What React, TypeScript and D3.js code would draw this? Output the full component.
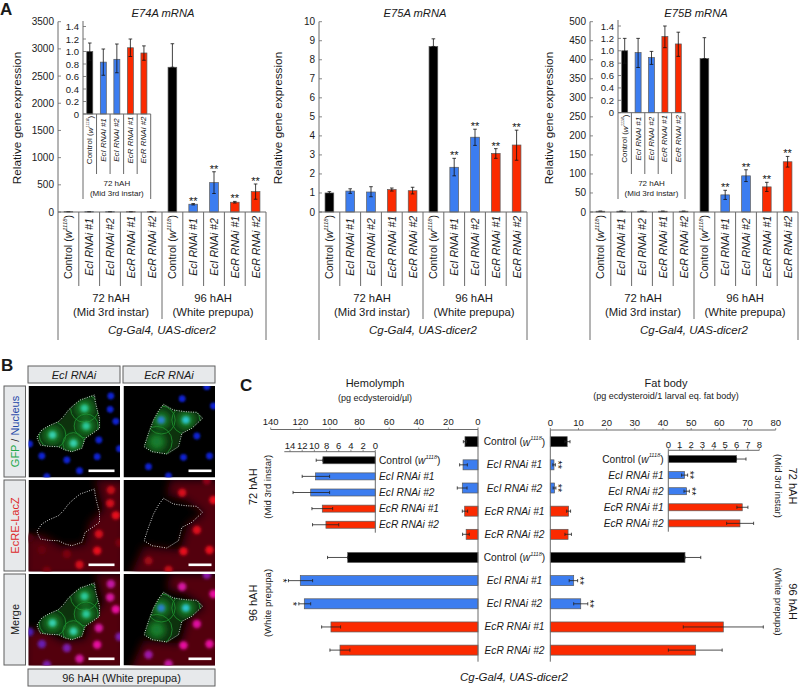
import React from "react";
import * as d3 from "d3";

const FONT = "'Liberation Sans', Arial, sans-serif";
const BLACK = "#000000";
const BLUE = "#3c7df0";
const RED = "#fb2a00";
const EDGE = "#5a5a5a";
const AXIS = "#6a6a6a";

const barColors = [BLACK, BLUE, BLUE, RED, RED];
const categories = ["Control", "EcI RNAi #1", "EcI RNAi #2", "EcR RNAi #1", "EcR RNAi #2"];

// Panel A
const e74aValues = [6, 6, 6, 6, 6, 2662, 143, 540, 180, 375];
const e74aHigh = [6, 6, 6, 6, 6, 3095, 155, 740, 195, 515];
const e74aLow = [6, 6, 6, 6, 6, 2662, 130, 340, 165, 235];
const e74aStars = [0, 0, 0, 0, 0, 0, 1, 1, 1, 1];
const e74aTicks = [0, 500, 1000, 1500, 2000, 2500, 3000, 3500];

const e75aValues = [1.0, 1.1, 1.05, 1.18, 1.12, 8.7, 2.35, 3.93, 3.08, 3.52];
const e75aHigh = [1.07, 1.22, 1.33, 1.26, 1.3, 9.1, 2.82, 4.35, 3.33, 4.3];
const e75aLow = [0.96, 0.98, 0.8, 1.1, 0.95, 8.7, 1.9, 3.5, 2.82, 2.72];
const e75aStars = [0, 0, 0, 0, 0, 0, 1, 1, 1, 1];
const e75aTicks = [0, 1, 2, 3, 4, 5, 6, 7, 8, 9, 10];

const e75bValues = [2, 2, 2, 2, 2, 403, 45, 95, 66, 132];
const e75bHigh = [2, 2, 2, 2, 2, 458, 57, 111, 78, 146];
const e75bLow = [2, 2, 2, 2, 2, 403, 33, 80, 54, 118];
const e75bStars = [0, 0, 0, 0, 0, 0, 1, 1, 1, 1];
const e75bTicks = [0, 50, 100, 150, 200, 250, 300, 350, 400, 450, 500];

const insetTicks = [0, 0.2, 0.4, 0.6, 0.8, 1.0, 1.2, 1.4];
const e74aInsetValues = [1.0, 0.83, 0.875, 1.06, 0.976];
const e74aInsetHigh = [1.136, 1.04, 1.12, 1.2, 1.09];
const e74aInsetLow = [0.86, 0.62, 0.66, 0.92, 0.86];
const e75bInsetValues = [1.0, 0.97, 0.89, 1.23, 1.11];
const e75bInsetHigh = [1.2, 1.2, 0.99, 1.4, 1.3];
const e75bInsetLow = [0.8, 0.73, 0.78, 1.05, 0.91];

// Panel C
const hemoValues = [8.8, 10.1, 10.6, 9, 8, 88, 120, 117.3, 99.3, 93.2];
const hemoHigh = [9.9, 12.4, 14, 10.6, 10.4, 101.6, 128, 121, 105.6, 100];
const hemoLow = [7.8, 7.2, 7.4, 7, 5.9, 88, 111.7, 113, 92.8, 86.5];
const hemoStars = ["", "", "", "", "", "", "*", "*", "", ""];
const hemoTicks = [0, 20, 40, 60, 80, 100, 120, 140];

const fatValues = [6, 1.3, 1.5, 6.5, 6.3, 47.8, 8.3, 10.8, 61.4, 51.6];
const fatHigh = [7, 1.8, 2, 7.2, 7.5, 53.4, 9.7, 13.3, 75.6, 61];
const fatLow = [5.2, 0.9, 1, 5.8, 5.2, 47.8, 6.7, 8.3, 47.2, 41.9];
const fatStars = ["", "**", "**", "", "", "", "**", "**", "", ""];
const fatTicks = [0, 10, 20, 30, 40, 50, 60, 70, 80];

const hemoInsetValues = [8.6, 9.8, 10.6, 8.7, 8.1];
const hemoInsetHigh = [9.7, 12, 13.5, 10.4, 10.3];
const hemoInsetLow = [8.6, 7.5, 7.5, 7, 6];
const hemoInsetTicks = [0, 2, 4, 6, 8, 10, 12, 14];

const fatInsetValues = [6.0, 1.43, 1.6, 6.5, 6.3];
const fatInsetHigh = [6.83, 1.7, 1.85, 7, 7.5];
const fatInsetLow = [6.0, 1.17, 1.38, 6.03, 5.13];
const fatInsetStars = ["", "**", "**", "", ""];
const fatInsetTicks = [0, 1, 2, 3, 4, 5, 6, 7, 8];

// Panel B photographs, sketched: [x, y, red level] in 1/3 px
const nucleiLeft = [[247,30,.8],[245,70,.9],[262,106,1],[211,162,.9],[40,210,.3],[115,222,.4],[206,212,1],[153,254,.9],[55,272,.4],[3,174,.15],[273,188,.4]];
const nucleiRight = [[176,38,.9],[270,60,1],[220,150,.95],[180,214,1],[258,210,1],[75,242,.6],[135,270,.8],[250,2,.5]];
const outlineLeft = [[198,27],[175,35],[155,42],[135,58],[120,72],[105,92],[90,107],[60,120],[40,132],[25,154],[35,177],[60,181],[90,182],[110,192],[130,197],[160,187],[170,157],[195,140],[213,127],[213,97],[205,67],[200,45]];
const outlineRight = [[120,55],[150,72],[185,77],[220,79],[237,97],[205,127],[175,142],[165,182],[130,204],[85,197],[62,182],[75,142],[90,102],[105,75]];
const redFieldLeft = [[200,0],[290,0],[290,290],[-10,290],[-10,170],[40,165],[100,200],[170,195],[185,125],[225,90],[210,30]];
const redFieldRight = [[140,0],[290,0],[290,290],[20,290],[60,200],[170,210],[195,130],[245,100],[190,62],[130,45]];
const cellsLeft = [[168,67,42],[173,120,36],[72,147,40],[135,172,32]];
const cellsRight = [[113,102,42],[187,102,42],[100,167,46]];
const coreLeft = [[168,67,"#2bc89a"],[173,120,"#2bc89a"],[72,147,"#35cfae"],[135,172,"#35cfae"]];
const coreRight = [[113,102,"#2a80cc"],[187,102,"#2cc4d0"],[100,167,"#157a30"]];

const pt = (a: number[][]) => a.map((p) => `${p[0] / 3},${p[1] / 3}`).join(" ");

function ControlLabel({ x, y, size, rotate, anchor }: any) {
  return (
    <text
      transform={`translate(${x},${y}) rotate(${rotate})`}
      textAnchor={anchor}
      fontSize={size}
      dominantBaseline="central"
    >
      Control (<tspan fontStyle="italic">w</tspan>
      <tspan fontStyle="italic" fontSize={size * 0.55} dy={-size * 0.35}>1118</tspan>
      <tspan dy={size * 0.35}>)</tspan>
    </text>
  );
}

function CatLabel({ i, x, y, size, rotate = 0, anchor = "middle" }: any) {
  if (i === 0) return <ControlLabel x={x} y={y} size={size} rotate={rotate} anchor={anchor} />;
  return (
    <text
      transform={`translate(${x},${y}) rotate(${rotate})`}
      textAnchor={anchor}
      fontSize={size}
      fontStyle="italic"
      dominantBaseline="central"
    >
      {categories[i]}
    </text>
  );
}

function VBars({ x0, x1, yTop, yBase, axisTop, max, ticks, fmt, values, high, low, stars, barW, tickSize, axisLine }: any) {
  const y = d3.scaleLinear().domain([0, max]).range([yBase, yTop]);
  const idx = d3.range(values.length);
  const x = d3.scaleBand<number>().domain(idx).range([x0, x1]);
  return (
    <g>
      {idx.map((i: number) => {
        const cx = x(i)! + x.bandwidth() / 2;
        const color = barColors[i % 5];
        return (
          <g key={i}>
            <rect x={cx - barW / 2} y={y(values[i])} width={barW} height={yBase - y(values[i])} fill={color} stroke={EDGE} strokeWidth={0.7} />
            <path
              d={`M${cx},${y(high[i])}V${y(low[i])}M${cx - 1.8},${y(high[i])}H${cx + 1.8}M${cx - 1.8},${y(low[i])}H${cx + 1.8}`}
              stroke="#111"
              strokeWidth={0.8}
              fill="none"
            />
            {stars && stars[i] ? (
              <text x={cx} y={y(high[i]) + 1} textAnchor="middle" fontSize={11} fill="#111">**</text>
            ) : null}
          </g>
        );
      })}
      <path d={`M${x0},${axisTop}V${yBase}`} stroke={AXIS} strokeWidth={1} fill="none" />
      {axisLine ? <path d={`M${x0},${yBase}H${x1}`} stroke={AXIS} strokeWidth={1} fill="none" /> : null}
      {ticks.map((t: number) => (
        <g key={t}>
          <path d={`M${x0},${y(t)}h3`} stroke={AXIS} strokeWidth={0.8} />
          <text x={x0 - 4} y={y(t)} textAnchor="end" fontSize={tickSize} dominantBaseline="central">{fmt(t)}</text>
        </g>
      ))}
    </g>
  );
}

function Separators({ x0, x1, n, y0, y1 }: any) {
  const x = d3.scaleLinear().domain([0, n]).range([x0, x1]);
  return (
    <g>
      {d3.range(1, n).filter((i: number) => i !== 5).map((i: number) => (
        <path key={i} d={`M${x(i)},${y0}V${y1}`} stroke={AXIS} strokeWidth={1} />
      ))}
    </g>
  );
}

function MainChart({ x0, title, titleX, max, ticks, values, high, low, stars, insetChart }: any) {
  const x1 = x0 + 208;
  const x = d3.scaleBand<number>().domain(d3.range(10)).range([x0, x1]);
  const mid = x0 + 104;
  return (
    <g>
      <text x={titleX} y={13} textAnchor="middle" dominantBaseline="central" fontSize={11.2} fontStyle="italic">{title}</text>
      <text transform={`translate(${x0 - 41},118) rotate(-90)`} textAnchor="middle" dominantBaseline="central" fontSize={11.8}>Relative gene expression</text>
      <VBars x0={x0} x1={x1} yTop={21.7} yBase={212} axisTop={21.7} max={max} ticks={ticks} fmt={(t: number) => `${t}`} values={values} high={high} low={low} stars={stars} barW={8.7} tickSize={10} axisLine />
      {d3.range(10).map((i: number) => (
        <CatLabel key={i} i={i % 5} x={x(i)! + x.bandwidth() / 2} y={247} size={10.6} rotate={-90} />
      ))}
      <Separators x0={x0} x1={x1} n={10} y0={212} y1={286} />
      <path d={`M${x0},212V340M${x1},212V340M${mid},212V319`} stroke={AXIS} strokeWidth={1} fill="none" />
      <text x={x0 + 53} y={298} textAnchor="middle" dominantBaseline="central" fontSize={11.3}>72 hAH</text>
      <text x={x0 + 53} y={312} textAnchor="middle" dominantBaseline="central" fontSize={11.3}>(Mid 3rd instar)</text>
      <text x={mid + 51} y={298} textAnchor="middle" dominantBaseline="central" fontSize={11.3}>96 hAH</text>
      <text x={mid + 51} y={312} textAnchor="middle" dominantBaseline="central" fontSize={11.3}>(White prepupa)</text>
      <text x={mid} y={330} textAnchor="middle" dominantBaseline="central" fontSize={11.5} fontStyle="italic">Cg-Gal4, UAS-dicer2</text>
      {insetChart}
    </g>
  );
}

function InsetChart({ x0, x1, yTop, yBase, axisTop, values, high, low }: any) {
  const x = d3.scaleBand<number>().domain(d3.range(5)).range([x0, x1]);
  const mid = (x0 + x1) / 2;
  return (
    <g>
      <VBars x0={x0} x1={x1} yTop={yTop} yBase={yBase} axisTop={axisTop} max={1.4} ticks={insetTicks} fmt={(t: number) => (t === 0 ? "0" : t.toFixed(1))} values={values} high={high} low={low} barW={6} tickSize={9.5} axisLine />
      {d3.range(5).map((i: number) => (
        <CatLabel key={i} i={i} x={x(i)! + x.bandwidth() / 2} y={yBase + 26} size={8} rotate={-90} />
      ))}
      <Separators x0={x0} x1={x1} n={5} y0={yBase} y1={174} />
      <path d={`M${x0},${yBase}V199M${x1},${yBase}V199`} stroke={AXIS} strokeWidth={1} fill="none" />
      <text x={mid} y={183} textAnchor="middle" dominantBaseline="central" fontSize={8}>72 hAH</text>
      <text x={mid} y={193} textAnchor="middle" dominantBaseline="central" fontSize={8}>(Mid 3rd instar)</text>
    </g>
  );
}

function HBars({ x0, xMax, max, axisY, bottom, bandTop, bandBottom, values, high, low, stars, ticks, barH, labelY, tickSize, axisEnd }: any) {
  const x = d3.scaleLinear().domain([0, max]).range([x0, xMax]);
  const idx = d3.range(values.length);
  const y = d3.scaleBand<number>().domain(idx).range([bandTop, bandBottom]);
  const dir = xMax > x0 ? 1 : -1;
  return (
    <g>
      {idx.map((i: number) => {
        const cy = y(i)! + y.bandwidth() / 2;
        const color = barColors[i % 5];
        const v = x(values[i]);
        return (
          <g key={i}>
            <rect x={Math.min(x0, v)} y={cy - barH / 2} width={Math.abs(v - x0)} height={barH} fill={color} stroke={EDGE} strokeWidth={0.7} />
            <path
              d={`M${x(low[i])},${cy}H${x(high[i])}M${x(low[i])},${cy - 1.6}v3.2M${x(high[i])},${cy - 1.6}v3.2`}
              stroke="#222"
              strokeWidth={0.8}
              fill="none"
            />
            {stars && stars[i] ? (
              <text
                transform={`translate(${x(high[i]) + dir * 4 - 5.5},${cy}) rotate(90)`}
                textAnchor="middle"
                fontSize={11}
                fill="#111"
              >
                {stars[i]}
              </text>
            ) : null}
          </g>
        );
      })}
      <path d={`M${x0},${axisY}V${bottom}M${x0},${axisY}H${axisEnd ?? xMax}`} stroke={AXIS} strokeWidth={1} fill="none" />
      {ticks.map((t: number) => (
        <g key={t}>
          <path d={`M${x(t)},${axisY}v-2`} stroke={AXIS} strokeWidth={0.8} />
          <text x={x(t)} y={labelY} textAnchor="middle" dominantBaseline="central" fontSize={tickSize}>{t}</text>
        </g>
      ))}
    </g>
  );
}

function Box({ x, y, w, h, children, vertical }: any) {
  const cx = x + w / 2;
  const cy = y + h / 2;
  return (
    <g>
      <rect x={x} y={y} width={w} height={h} fill="#e7e9eb" stroke="#5f5f5f" strokeWidth={1} />
      <text
        transform={`translate(${cx},${cy})${vertical ? " rotate(-90)" : ""}`}
        textAnchor="middle"
        dominantBaseline="central"
        fontSize={11}
      >
        {children}
      </text>
    </g>
  );
}

const redLevel = d3.interpolateRgb("#30000a", "#e80c1c");
const mergeLevel = d3.interpolateRgb("#3020b8", "#e810a0");

function Photo({ id, x, y, mode, nuclei, outline, field, cells, core, barX0, barX1 }: any) {
  const showGreen = mode !== "red";
  const showRed = mode !== "green";
  return (
    <svg x={x} y={y} width={91.5} height={91.5} viewBox="0 0 91.5 91.5">
      <clipPath id={`clip-${id}`}><polygon points={pt(outline)} /></clipPath>
      <rect width={91.5} height={91.5} fill="#000" />
      {showRed ? <polygon points={pt(field)} fill="#520610" filter="url(#blur4)" /> : null}
      {nuclei.map((n: number[], i: number) => (
        <circle
          key={i}
          cx={n[0] / 3}
          cy={n[1] / 3}
          r={mode === "green" ? 3.4 : 4.2}
          fill={mode === "green" ? "#1020d0" : mode === "red" ? redLevel(n[2]) : mergeLevel(n[2])}
          filter={mode === "green" ? "url(#blur1)" : "url(#blur1b)"}
        />
      ))}
      {showGreen ? (
        <g>
          <polygon points={pt(outline)} fill="#08330f" filter="url(#blur1)" />
          <g clipPath={`url(#clip-${id})`}>
            {core.map((c: any[], i: number) => (
              <circle key={`g${i}`} cx={c[0] / 3} cy={c[1] / 3} r={9} fill="#137a28" filter="url(#blur3)" />
            ))}
            {cells.map((c: number[], i: number) => (
              <circle key={i} cx={c[0] / 3} cy={c[1] / 3} r={c[2] / 3} fill="none" stroke="#1e8a2e" strokeWidth={0.9} filter="url(#blur05)" />
            ))}
            {core.map((c: any[], i: number) => (
              <circle key={i} cx={c[0] / 3} cy={c[1] / 3} r={3.8} fill={c[2]} filter="url(#blur1b)" />
            ))}
          </g>
        </g>
      ) : null}
      <polygon points={pt(outline)} fill="none" stroke="#e8e8e8" strokeWidth={0.9} strokeDasharray="1 1.4" />
      <rect x={barX0} y={83.5} width={barX1 - barX0} height={2.6} fill="#fff" />
    </svg>
  );
}

export default function App() {
  const rows = [386, 480, 574];
  const modes = ["green", "red", "merge"];
  return (
    <svg
      width={800}
      height={687}
      viewBox="0 0 800 687"
      style={{ position: "absolute", left: 0, top: 0, fontFamily: FONT, background: "#fff" }}
      fill="#1a1a1a"
    >
      <defs>
        <filter id="blur4" x="-20%" y="-20%" width="140%" height="140%"><feGaussianBlur stdDeviation="4.5" /></filter>
        <filter id="blur3" x="-60%" y="-60%" width="220%" height="220%"><feGaussianBlur stdDeviation="3" /></filter>
        <filter id="blur1" x="-40%" y="-40%" width="180%" height="180%"><feGaussianBlur stdDeviation="0.9" /></filter>
        <filter id="blur1b" x="-60%" y="-60%" width="220%" height="220%"><feGaussianBlur stdDeviation="1.6" /></filter>
        <filter id="blur05" x="-20%" y="-20%" width="140%" height="140%"><feGaussianBlur stdDeviation="0.5" /></filter>
      </defs>

      <text x={0} y={15} fontSize={17} fontWeight="bold">A</text>
      <text x={1} y={371} fontSize={17} fontWeight="bold">B</text>
      <text x={240} y={391} fontSize={17} fontWeight="bold">C</text>

      <MainChart
        x0={58}
        title="E74A mRNA"
        titleX={163}
        max={3500}
        ticks={e74aTicks}
        values={e74aValues}
        high={e74aHigh}
        low={e74aLow}
        stars={e74aStars}
        insetChart={<InsetChart x0={83} x1={150.7} yTop={26.5} yBase={114} axisTop={21} values={e74aInsetValues} high={e74aInsetHigh} low={e74aInsetLow} />}
      />
      <MainChart
        x0={319}
        title="E75A mRNA"
        titleX={415}
        max={10}
        ticks={e75aTicks}
        values={e75aValues}
        high={e75aHigh}
        low={e75aLow}
        stars={e75aStars}
      />
      <MainChart
        x0={590}
        title="E75B mRNA"
        titleX={696}
        max={500}
        ticks={e75bTicks}
        values={e75bValues}
        high={e75bHigh}
        low={e75bLow}
        stars={e75bStars}
        insetChart={<InsetChart x0={618} x1={685} yTop={26} yBase={112.7} axisTop={20} values={e75bInsetValues} high={e75bInsetHigh} low={e75bInsetLow} />}
      />

      {/* Panel B */}
      <Box x={28} y={366} w={92} h={17}><tspan fontStyle="italic">EcI RNAi</tspan></Box>
      <Box x={123} y={366} w={92} h={17}><tspan fontStyle="italic">EcR RNAi</tspan></Box>
      <Box x={4} y={386} w={21.5} h={91} vertical>
        <tspan fill="#22a84a">GFP</tspan><tspan> / </tspan><tspan fill="#2447a8">Nucleus</tspan>
      </Box>
      <Box x={4} y={480} w={21.5} h={91} vertical><tspan fill="#dd2a2a">EcRE-LacZ</tspan></Box>
      <Box x={4} y={574} w={21.5} h={91} vertical>Merge</Box>
      <Box x={28} y={669} w={187} h={17}>96 hAH (White prepupa)</Box>
      {rows.map((y, r) => (
        <g key={y}>
          <Photo id={`l${r}`} x={28.5} y={y} mode={modes[r]} nuclei={nucleiLeft} outline={outlineLeft} field={redFieldLeft} cells={cellsLeft} core={coreLeft} barX0={60} barX1={86} />
          <Photo id={`r${r}`} x={123.5} y={y} mode={modes[r]} nuclei={nucleiRight} outline={outlineRight} field={redFieldRight} cells={cellsRight} core={coreRight} barX0={65} barX1={88} />
        </g>
      ))}

      {/* Panel C */}
      <text x={375} y={383} textAnchor="middle" dominantBaseline="central" fontSize={11}>Hemolymph</text>
      <text x={375} y={398} textAnchor="middle" dominantBaseline="central" fontSize={9}>(pg ecdysteroid/µl)</text>
      <text x={666} y={383} textAnchor="middle" dominantBaseline="central" fontSize={11}>Fat body</text>
      <text x={666} y={396} textAnchor="middle" dominantBaseline="central" fontSize={9}>(pg ecdysteroid/1 larval eq. fat body)</text>

      <HBars x0={478} xMax={270.7} max={140} axisY={429.5} bottom={661.7} bandTop={430.1} bandBottom={661.7} values={hemoValues} high={hemoHigh} low={hemoLow} stars={hemoStars} ticks={hemoTicks} barH={10} labelY={421.7} tickSize={9.5} />
      <HBars x0={550.3} xMax={775.7} max={80} axisY={430} bottom={661.7} bandTop={430.1} bandBottom={661.7} values={fatValues} high={fatHigh} low={fatLow} stars={fatStars} ticks={fatTicks} barH={10} labelY={422.7} tickSize={9.5} />
      <HBars x0={375.3} xMax={290} max={14} axisY={451.7} bottom={532.7} bandTop={452.2} bandBottom={532.8} values={hemoInsetValues} high={hemoInsetHigh} low={hemoInsetLow} ticks={hemoInsetTicks} barH={7} labelY={445} tickSize={9.5} axisEnd={284.3} />
      <HBars x0={668.3} xMax={759.3} max={8} axisY={450.3} bottom={531.7} bandTop={451} bandBottom={531.4} values={fatInsetValues} high={fatInsetHigh} low={fatInsetLow} stars={fatInsetStars} ticks={fatInsetTicks} barH={7} labelY={444} tickSize={9.5} />

      {d3.range(10).map((i: number) => {
        const y = d3.scaleBand<number>().domain(d3.range(10)).range([430.1, 661.7]);
        return <CatLabel key={i} i={i % 5} x={514.5} y={y(i)! + y.bandwidth() / 2} size={10.2} />;
      })}
      {d3.range(5).map((i: number) => {
        const y = d3.scaleBand<number>().domain(d3.range(5)).range([452.2, 532.8]);
        return <CatLabel key={i} i={i} x={379} y={y(i)! + y.bandwidth() / 2} size={10.2} anchor="start" />;
      })}
      {d3.range(5).map((i: number) => {
        const y = d3.scaleBand<number>().domain(d3.range(5)).range([451, 531.4]);
        return <CatLabel key={i} i={i} x={663.7} y={y(i)! + y.bandwidth() / 2} size={10.2} anchor="end" />;
      })}

      <text transform="translate(252.7,486.7) rotate(-90)" textAnchor="middle" dominantBaseline="central" fontSize={11}>72 hAH</text>
      <text transform="translate(267,486.7) rotate(-90)" textAnchor="middle" dominantBaseline="central" fontSize={9.5}>(Mid 3rd instar)</text>
      <text transform="translate(252.7,603) rotate(-90)" textAnchor="middle" dominantBaseline="central" fontSize={11}>96 hAH</text>
      <text transform="translate(267,603) rotate(-90)" textAnchor="middle" dominantBaseline="central" fontSize={9.5}>(White prepupa)</text>
      <text transform="translate(792.7,486) rotate(90)" textAnchor="middle" dominantBaseline="central" fontSize={11}>72 hAH</text>
      <text transform="translate(778,486) rotate(90)" textAnchor="middle" dominantBaseline="central" fontSize={9.5}>(Mid 3rd instar)</text>
      <text transform="translate(792.7,601.7) rotate(90)" textAnchor="middle" dominantBaseline="central" fontSize={11}>96 hAH</text>
      <text transform="translate(778,601.7) rotate(90)" textAnchor="middle" dominantBaseline="central" fontSize={9.5}>(White prepupa)</text>

      <text x={514} y={677} textAnchor="middle" dominantBaseline="central" fontSize={11.5} fontStyle="italic">Cg-Gal4, UAS-dicer2</text>
    </svg>
  );
}
